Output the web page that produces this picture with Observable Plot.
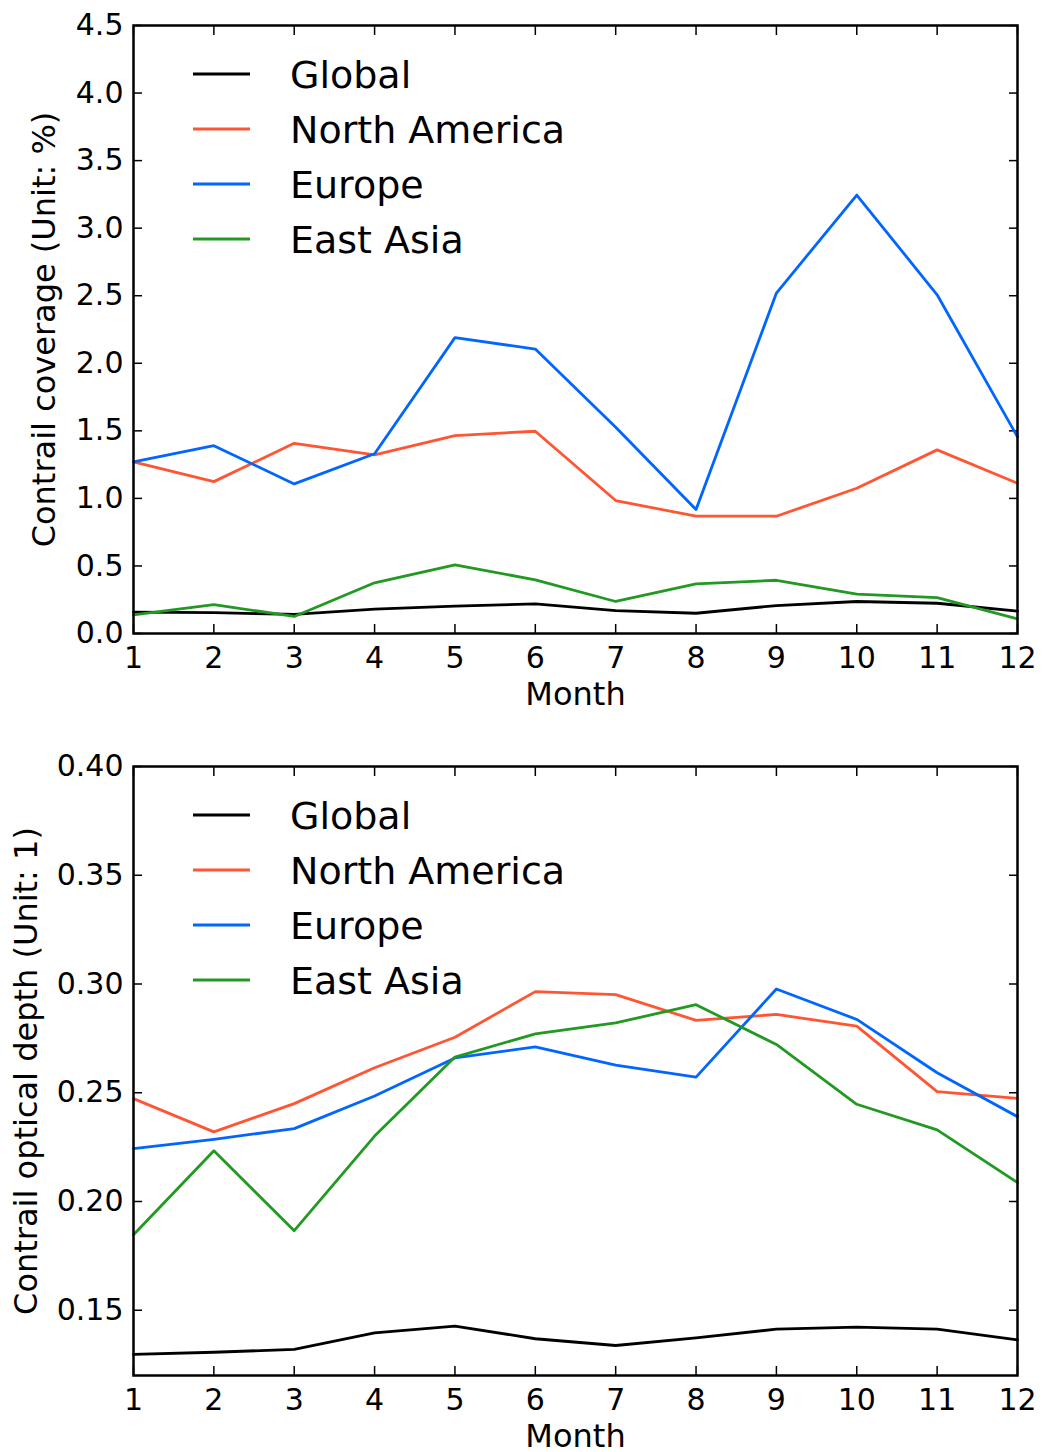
<!DOCTYPE html>
<html><head><meta charset="utf-8">
<script src="https://cdn.jsdelivr.net/npm/d3@7"></script>
<script src="https://cdn.jsdelivr.net/npm/@observablehq/plot@0.6"></script>
<style>body{margin:0;background:#fff} svg{display:block} #c{width:1045px;height:1452px;position:relative}</style>
</head><body><div id="c"></div>
<script>
const months = [1,2,3,4,5,6,7,8,9,10,11,12];
const regions = ["Global", "North America", "Europe", "East Asia"];
const regionColors = ["#000000", "#ff5533", "#0066ff", "#229922"];

// Contrail coverage (%)
const coverageGlobal = [0.158, 0.155, 0.141, 0.180, 0.202, 0.219, 0.170, 0.150, 0.207, 0.237, 0.224, 0.165];
const coverageNorthAmerica = [1.27, 1.124, 1.408, 1.322, 1.465, 1.497, 0.984, 0.868, 0.868, 1.075, 1.359, 1.112];
const coverageEurope = [1.27, 1.39, 1.107, 1.33, 2.19, 2.105, 1.526, 0.917, 2.52, 3.245, 2.507, 1.455];
const coverageEastAsia = [0.138, 0.214, 0.126, 0.375, 0.508, 0.397, 0.237, 0.367, 0.394, 0.291, 0.266, 0.108];

// Contrail optical depth (1)
const depthGlobal = [0.1297, 0.1307, 0.1320, 0.1396, 0.1427, 0.1369, 0.1338, 0.1373, 0.1413, 0.1422, 0.1413, 0.1364];
const depthNorthAmerica = [0.2473, 0.2320, 0.2450, 0.2615, 0.2755, 0.2965, 0.2951, 0.2833, 0.2860, 0.2806, 0.2505, 0.2474];
const depthEurope = [0.2243, 0.2286, 0.2335, 0.2485, 0.2660, 0.2711, 0.2627, 0.2572, 0.2977, 0.2837, 0.2592, 0.2390];
const depthEastAsia = [0.1847, 0.2233, 0.1866, 0.2301, 0.2664, 0.2771, 0.2821, 0.2905, 0.2722, 0.2447, 0.2329, 0.2087];

const coverageTicks = [0, 0.5, 1.0, 1.5, 2.0, 2.5, 3.0, 3.5, 4.0, 4.5];
const depthTicks = [0.15, 0.20, 0.25, 0.30, 0.35, 0.40];

function tidy(seriesList) {
  const out = [];
  seriesList.forEach((vals, k) => vals.forEach((v, i) => out.push({month: months[i], value: v, region: regions[k]})));
  return out;
}
const coverageData = tidy([coverageGlobal, coverageNorthAmerica, coverageEurope, coverageEastAsia]);
const depthData = tidy([depthGlobal, depthNorthAmerica, depthEurope, depthEastAsia]);

const FONT = "DejaVu Sans, Verdana, sans-serif";

function makeChart(data, o) {
  const chart = Plot.plot({
    width: 1045, height: o.height,
    marginLeft: 133, marginRight: 28, marginTop: o.marginTop, marginBottom: o.marginBottom,
    style: {fontFamily: FONT, fontSize: "30px", color: "#000", background: "#fff", overflow: "visible"},
    x: {domain: [1, 12]},
    y: {domain: o.yDomain},
    color: {domain: regions, range: regionColors},
    marks: [
      Plot.axisX({ticks: months, tickSize: -9, tickPadding: 22, tickFormat: d => String(d), label: null, strokeWidth: 1.5, fontSize: 30}),
      Plot.axisX({anchor: "top", ticks: months, tickSize: -9, tickFormat: () => "", label: null, strokeWidth: 1.5}),
      Plot.axisY({ticks: o.yTicks, tickSize: -9, tickPadding: 19, tickFormat: o.yFormat, label: null, strokeWidth: 1.5, fontSize: 30}),
      Plot.axisY({anchor: "right", ticks: o.yTicks, tickSize: -9, tickFormat: () => "", label: null, strokeWidth: 1.5}),
      Plot.line(data, {x: "month", y: "value", z: "region", stroke: "region", strokeWidth: 2.8}),
      Plot.frame({stroke: "#000", strokeWidth: 2.5}),
      Plot.text([o.ylabel], {frameAnchor: "left", rotate: -90, dx: o.ylabelDx, fontSize: 32, textAnchor: "middle", lineAnchor: "middle"}),
      Plot.text(["Month"], {frameAnchor: "bottom", dy: 61, fontSize: 32, textAnchor: "middle", lineAnchor: "middle"})
    ]
  });
  const svg = d3.select(chart.tagName.toLowerCase() === "svg" ? chart : chart.querySelector("svg"));
  const g = svg.append("g").attr("class", "legend").attr("text-anchor", "start");
  regions.forEach((r, i) => {
    const y = o.legendTop + i * 55;
    g.append("line").attr("x1", 193).attr("x2", 250).attr("y1", y).attr("y2", y)
      .attr("stroke", regionColors[i]).attr("stroke-width", 2.8);
    g.append("text").attr("x", 290).attr("y", y).attr("dy", "0.36em")
      .attr("text-anchor", "start")
      .attr("font-family", FONT).attr("font-size", 38).attr("fill", "#000").text(r);
  });
  return chart;
}

const c = document.getElementById("c");
c.appendChild(makeChart(coverageData, {
  height: 720, marginTop: 25, marginBottom: 87, yDomain: [0, 4.5], yTicks: coverageTicks,
  yFormat: d3.format(".1f"), ylabel: "Contrail coverage (Unit: %)", ylabelDx: -89, legendTop: 74
}));
c.appendChild(makeChart(depthData, {
  height: 732, marginTop: 46, marginBottom: 77, yDomain: [0.12, 0.40], yTicks: depthTicks,
  yFormat: d3.format(".2f"), ylabel: "Contrail optical depth (Unit: 1)", ylabelDx: -107, legendTop: 95
}));
</script>
</body></html>
